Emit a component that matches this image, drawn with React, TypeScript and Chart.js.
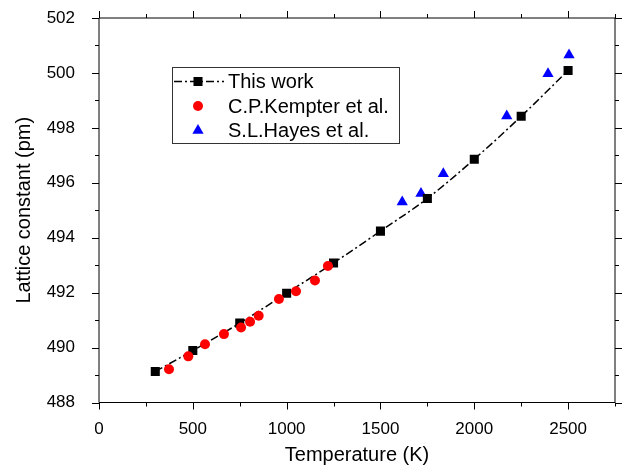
import React, { useEffect, useRef } from 'react';
import { Chart, registerables } from 'chart.js';

Chart.register(...registerables);

// ---- Data ----
const thisWorkT = [300, 500, 750, 1000, 1250, 1500, 1750, 2000, 2250, 2500];
const thisWorkA = [489.13, 489.89, 490.89, 491.98, 493.08, 494.24, 495.43, 496.86, 498.42, 500.09];

const kempterT = [373, 476, 565, 666, 757, 805, 851, 959, 1050, 1151, 1220];
const kempterA = [489.21, 489.68, 490.12, 490.49, 490.73, 490.94, 491.16, 491.77, 492.05, 492.44, 492.97];

const hayesT = [1616, 1716, 1835, 2173, 2393, 2505];
const hayesA = [495.30, 495.61, 496.33, 498.43, 499.97, 500.65];

const legendLabels = ['This work', 'C.P.Kempter et al.', 'S.L.Hayes et al.'];
const xTitle = 'Temperature (K)';
const yTitle = 'Lattice constant (pm)';
const xMin = 0, xMax = 2750, xStep = 250, xLabelEvery = 500;
const yMin = 488, yMax = 502, yStep = 1, yLabelEvery = 2;

const FONT = "Arial, 'Liberation Sans', sans-serif";

const toPts = (xs: number[], ys: number[]) => xs.map((x, i) => ({ x, y: ys[i] }));

function drawSymbol(ctx: CanvasRenderingContext2D, style: string, r: number, x: number, y: number, color: string) {
  ctx.beginPath();
  if (style === 'rect') {
    const s = Math.SQRT1_2 * r;
    ctx.rect(x - s, y - s, 2 * s, 2 * s);
  } else if (style === 'triangle') {
    for (let k = 0; k < 3; k++) {
      const a = (k * 2 * Math.PI) / 3;
      const px = x + Math.sin(a) * r;
      const py = y - Math.cos(a) * r;
      if (k === 0) ctx.moveTo(px, py); else ctx.lineTo(px, py);
    }
    ctx.closePath();
  } else {
    ctx.arc(x, y, r, 0, Math.PI * 2);
  }
  ctx.fillStyle = color;
  ctx.fill();
}

const frameTicksPlugin = {
  id: 'frameTicks',
  afterDraw(chart: any) {
    const { ctx, chartArea } = chart;
    const { left, right, top, bottom } = chartArea;
    ctx.save();
    ctx.strokeStyle = '#000';
    ctx.lineWidth = 1;
    ctx.beginPath();
    ctx.rect(left, top, right - left, bottom - top);
    ctx.stroke();
    const xs = chart.scales.x;
    const ys = chart.scales.y;
    ctx.beginPath();
    xs.ticks.forEach((t: any) => {
      const p = Math.round(xs.getPixelForValue(t.value)) + 0.5;
      const major = t.value % xLabelEvery === 0;
      const len = major ? 7 : 4;
      ctx.moveTo(p, bottom);
      ctx.lineTo(p, bottom + len);
      ctx.moveTo(p, top);
      ctx.lineTo(p, top - len);
    });
    ys.ticks.forEach((t: any) => {
      const p = Math.round(ys.getPixelForValue(t.value)) + 0.5;
      const major = t.value % yLabelEvery === 0;
      const len = major ? 7 : 4;
      ctx.moveTo(left, p);
      ctx.lineTo(left - len, p);
      ctx.moveTo(right, p);
      ctx.lineTo(right + len, p);
    });
    ctx.stroke();
    ctx.restore();
  },
};

const legendPlugin = {
  id: 'boxLegend',
  afterDatasetsDraw(chart: any) {
    const { ctx } = chart;
    const bx = 172.5, by = 67.5, bw = 227, bh = 76;
    ctx.save();
    ctx.fillStyle = '#fff';
    ctx.fillRect(bx, by, bw, bh);
    ctx.strokeStyle = '#333';
    ctx.lineWidth = 1;
    ctx.strokeRect(bx, by, bw, bh);
    const rowY = [81.5, 106, 130.5];
    const symX = 198;
    const textX = 228;
    const order = [1, 0, 2];
    order.forEach((di, row) => {
      const ds = chart.data.datasets[di];
      const y = rowY[row];
      if (ds.showLine) {
        ctx.save();
        ctx.strokeStyle = ds.borderColor;
        ctx.lineWidth = ds.borderWidth;
        ctx.setLineDash(ds.borderDash || []);
        ctx.beginPath();
        ctx.moveTo(174, y);
        ctx.lineTo(224, y);
        ctx.stroke();
        ctx.restore();
      }
      drawSymbol(ctx, ds.pointStyle, ds.pointRadius, symX, y, ds.pointBackgroundColor);
      ctx.font = `20px ${FONT}`;
      ctx.textBaseline = 'middle';
      ctx.textAlign = 'left';
      ctx.fillStyle = '#000';
      ctx.fillText(ds.label, textX, y + 1);
    });
    ctx.restore();
  },
};

export default function App() {
  const ref = useRef<HTMLCanvasElement>(null);
  useEffect(() => {
    if (!ref.current) return;
    const chart = new Chart(ref.current, {
      type: 'scatter',
      data: {
        datasets: [
          {
            label: legendLabels[1],
            data: toPts(kempterT, kempterA),
            pointStyle: 'circle',
            pointRadius: 5,
            pointBackgroundColor: '#ff0000',
            pointBorderWidth: 0,
            borderColor: '#ff0000',
            showLine: false,
            order: 0,
          } as any,
          {
            label: legendLabels[0],
            data: toPts(thisWorkT, thisWorkA),
            pointStyle: 'rect',
            pointRadius: 6.4,
            pointBackgroundColor: '#000',
            pointBorderWidth: 0,
            borderColor: '#000',
            borderWidth: 1.5,
            borderDash: [8, 3, 2, 3],
            showLine: true,
            cubicInterpolationMode: 'monotone',
            order: 1,
          } as any,
          {
            label: legendLabels[2],
            data: toPts(hayesT, hayesA),
            pointStyle: 'triangle',
            pointRadius: 6.5,
            pointBackgroundColor: '#0000ff',
            pointBorderWidth: 0,
            borderColor: '#0000ff',
            showLine: false,
            order: 2,
          } as any,
        ],
      },
      options: {
        responsive: false,
        animation: false,
        layout: { padding: { top: 18, right: 7, left: 0, bottom: 0 } },
        plugins: { legend: { display: false }, tooltip: { enabled: false } },
        scales: {
          x: {
            type: 'linear',
            min: xMin,
            max: xMax,
            grid: { display: false },
            border: { display: false },
            ticks: {
              stepSize: xStep,
              autoSkip: false,
              maxRotation: 0,
              padding: 9,
              color: '#000',
              font: { family: FONT, size: 17 },
              callback: (v: any) => (Number(v) % xLabelEvery === 0 ? String(v) : ''),
            },
            title: {
              display: true,
              text: xTitle,
              color: '#000',
              font: { family: FONT, size: 20 },
              padding: { top: 4, bottom: 0 },
            },
            afterFit: (s: any) => {
              s.height = 64.5;
              s.paddingLeft = 0;
              s.paddingRight = 0;
            },
          },
          y: {
            type: 'linear',
            min: yMin,
            max: yMax,
            grid: { display: false },
            border: { display: false },
            ticks: {
              stepSize: yStep,
              autoSkip: false,
              padding: 16,
              color: '#000',
              font: { family: FONT, size: 17 },
              callback: (v: any) => (Number(v) % yLabelEvery === 0 ? String(v) : ''),
            },
            title: {
              display: true,
              text: yTitle,
              color: '#000',
              font: { family: FONT, size: 20 },
              padding: { top: 12.5, bottom: 0 },
            },
            afterFit: (s: any) => {
              s.width = 99;
              s.paddingTop = 0;
              s.paddingBottom = 0;
            },
          },
        },
      },
      plugins: [frameTicksPlugin, legendPlugin],
    });
    return () => chart.destroy();
  }, []);
  return (
    <div style={{ position: 'fixed', left: 0, top: 0, width: 622, height: 467, background: '#fff' }}>
      <canvas ref={ref} width={622} height={467} />
    </div>
  );
}
